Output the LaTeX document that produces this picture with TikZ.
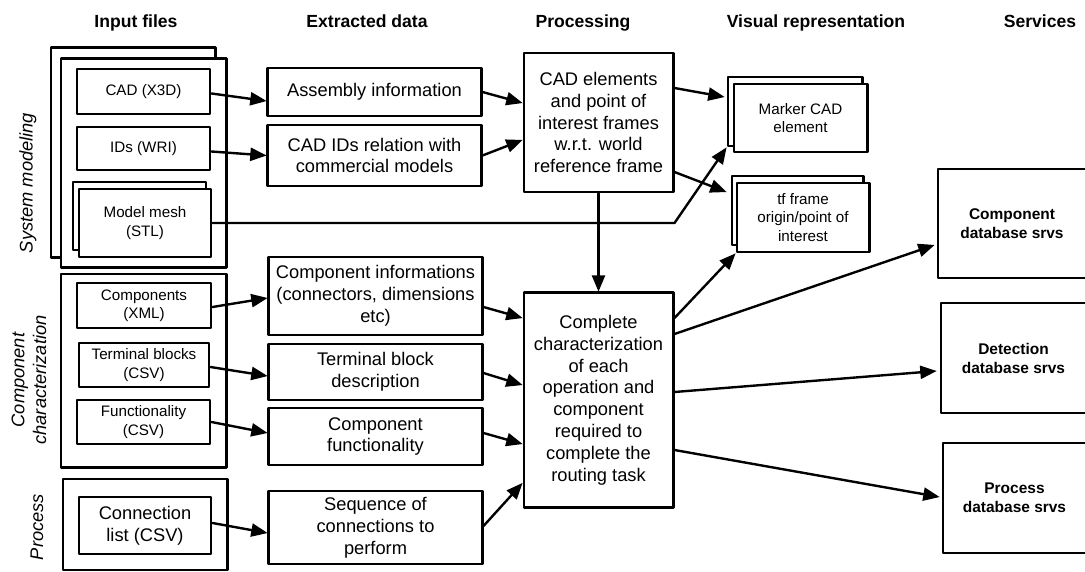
\documentclass[tikz,border=0pt]{standalone}
\usepackage{fontspec}
\setmainfont{Liberation Sans}
\usepackage{tikz}
\usetikzlibrary{calc}
\usetikzlibrary{arrows}
\tikzstyle{every node}=[font=\fontsize{13}{15.5}\selectfont]
\tikzstyle{box}=[draw,line width=2.1pt,fill=white,align=center,inner sep=0pt]
\tikzstyle{smallbox}=[box,font=\fontsize{10.8}{13}\selectfont]
\tikzstyle{grp}=[draw,line width=2.1pt,fill=white,inner sep=0pt]
\tikzstyle{srv}=[box,font=\fontsize{11}{13.5}\selectfont\bfseries]
\tikzstyle{head}=[anchor=base,font=\fontsize{12.5}{15}\selectfont\bfseries]
\tikzstyle{sidelabel}=[rotate=90,align=center,font=\fontsize{13}{15.5}\selectfont\itshape]
\tikzstyle{conn}=[->,line width=1.7pt]

\begin{document}
\begin{tikzpicture}[line cap=round,line join=round,>=triangle 45,x=0.025cm,y=-0.025cm]
            \path [use as bounding box] (0,0) rectangle (1085,572);
            \clip (0,0) rectangle (1085,572);
            \node [head] (hin) at (136,27) {Input files};
            \node [head] (hext) at (367,27) {Extracted data};
            \node [head] (hproc) at (583,27) {Processing};
            \node [head] (hvis) at (816,27) {Visual representation};
            \node [head] (hsrv) at (1040,27) {Services};
            \node [sidelabel] (lsys) at (28,183) {System modeling};
            \node [sidelabel] (lcomp) at (29,380) {Component\\characterization};
            \node [sidelabel] (lproc) at (37,527) {Process};
            \node [grp,minimum width=4.1cm,minimum height=5.225cm] (sysback) at (133,152.5) {};
            \node [grp,minimum width=4.125cm,minimum height=5.2cm] (sys) at (143.5,163) {};
            \node [grp,minimum width=4.125cm,minimum height=4.825cm] (compgrp) at (143.5,370.5) {};
            \node [grp,minimum width=4.1cm,minimum height=2.275cm] (procgrp) at (145,524.5) {};
            \node [smallbox,minimum width=3.325cm,minimum height=1.125cm] (cad) at (143.5,91.5) {CAD (X3D)};
            \node [smallbox,minimum width=3.325cm,minimum height=1.075cm] (ids) at (143.5,148.5) {IDs (WRI)};
            \node [smallbox,minimum width=3.325cm,minimum height=1.7cm] (meshback) at (139.5,216) {};
            \node [smallbox,minimum width=3.3cm,minimum height=1.7cm] (mesh) at (145,223) {Model mesh\\(STL)};
            \node [smallbox,minimum width=3.35cm,minimum height=1.125cm] (compxml) at (144,305.5) {Components\\(XML)};
            \node [smallbox,minimum width=3.25cm,minimum height=1.1cm] (term) at (144,365) {Terminal blocks\\(CSV)};
            \node [smallbox,minimum width=3.325cm,minimum height=1.1cm] (func) at (143.5,422) {Functionality\\(CSV)};
            \node [box,minimum width=3.3cm,minimum height=1.425cm] (connlist) at (145,525.5) {Connection\\list (CSV)};
            \node [box,minimum width=5.325cm,minimum height=1.2cm] (asm) at (374.5,92) {Assembly information};
            \node [box,minimum width=5.325cm,minimum height=1.525cm] (rel) at (374.5,155.5) {CAD IDs relation with\\commercial models};
            \node [box,minimum width=5.325cm,minimum height=1.95cm] (info) at (375.5,296) {Component informations\\(connectors, dimensions\\etc)};
            \node [box,minimum width=5.325cm,minimum height=1.4cm] (tdesc) at (375.5,372) {Terminal block\\description};
            \node [box,minimum width=5.325cm,minimum height=1.425cm] (cfunc) at (375.5,436.5) {Component\\functionality};
            \node [box,minimum width=5.325cm,minimum height=1.825cm] (seq) at (375.5,527.5) {Sequence of\\connections to\\perform};
            \node [box,minimum width=3.725cm,minimum height=3.475cm] (frames) at (598.5,122.5) {CAD elements\\and point of\\interest frames\\w.r.t. world\\reference frame};
            \node [box,minimum width=3.725cm,minimum height=5.35cm] (charac) at (598.5,400) {Complete\\characterization\\of each\\operation and\\component\\required to\\complete the\\routing task};
            \node [smallbox,minimum width=3.35cm,minimum height=1.725cm] (markerback) at (795,111.5) {};
            \node [smallbox,minimum width=3.325cm,minimum height=1.7cm] (marker) at (800.5,118) {Marker CAD\\element};
            \node [smallbox,minimum width=3.275cm,minimum height=1.725cm] (tfback) at (797.5,210.5) {};
            \node [smallbox,minimum width=3.3cm,minimum height=1.725cm] (tf) at (803,217.5) {tf frame\\origin/point of\\interest};
            \node [srv,minimum width=3.7cm,minimum height=2.725cm] (srvcomp) at (1012,223.5) {Component\\database srvs};
            \node [srv,minimum width=3.625cm,minimum height=2.75cm] (srvdet) at (1013.5,358) {Detection\\database srvs};
            \node [srv,minimum width=3.575cm,minimum height=2.75cm] (srvproc) at (1014.5,498) {Process\\database srvs};
            \draw [conn] ($(cad.east)+(0,2)$) -- ($(asm.west)+(0,9)$);
            \draw [conn] ($(ids.east)+(0,3)$) -- (rel.west);
            \draw [conn] ($(compxml.east)+(0,1.5)$) -- ($(info.west)+(0,2)$);
            \draw [conn] ($(term.east)+(0,2)$) -- ($(tdesc.west)+(0,4)$);
            \draw [conn] (func.east) -- ($(cfunc.west)+(0,-3.5)$);
            \draw [conn] ($(connlist.east)+(0,-2.5)$) -- ($(seq.west)+(0,5.5)$);
            \draw [conn] (asm.east) -- ($(frames.west)+(0,-19.5)$);
            \draw [conn] (rel.east) -- ($(frames.west)+(0,17.5)$);
            \draw [conn] ($(info.east)+(0,11)$) -- ($(charac.west)+(0,-82)$);
            \draw [conn] ($(tdesc.east)+(0,1)$) -- ($(charac.west)+(0,-15)$);
            \draw [conn] ($(cfunc.east)+(0,-3.5)$) -- ($(charac.west)+(0,44)$);
            \draw [conn] ($(seq.east)+(0,-1.5)$) -- ($(charac.west)+(0,83)$);
            \draw [conn] (mesh.east) -- (mesh.east -| frames.east) -- (markerback.south west);
            \draw [conn] (frames.south) -- (charac.north);
            \draw [conn] ($(frames.east)+(0,-34.5)$) -- ($(markerback.west)+(-2,-14.5)$);
            \draw [conn] ($(frames.east)+(0,49.5)$) -- ($(tfback.west)+(-4,-18.5)$);
            \draw [conn] ($(charac.east)+(0,-82)$) -- (tf.south west);
            \draw [conn] ($(charac.east)+(0,-66)$) -- ($(srvcomp.west)+(-2,21.5)$);
            \draw [conn] ($(charac.east)+(0,-8)$) -- ($(srvdet.west)+(-3,13)$);
            \draw [conn] ($(charac.east)+(0,50)$) -- ($(srvproc.west)+(-2,-1)$);
\end{tikzpicture}
\end{document}
